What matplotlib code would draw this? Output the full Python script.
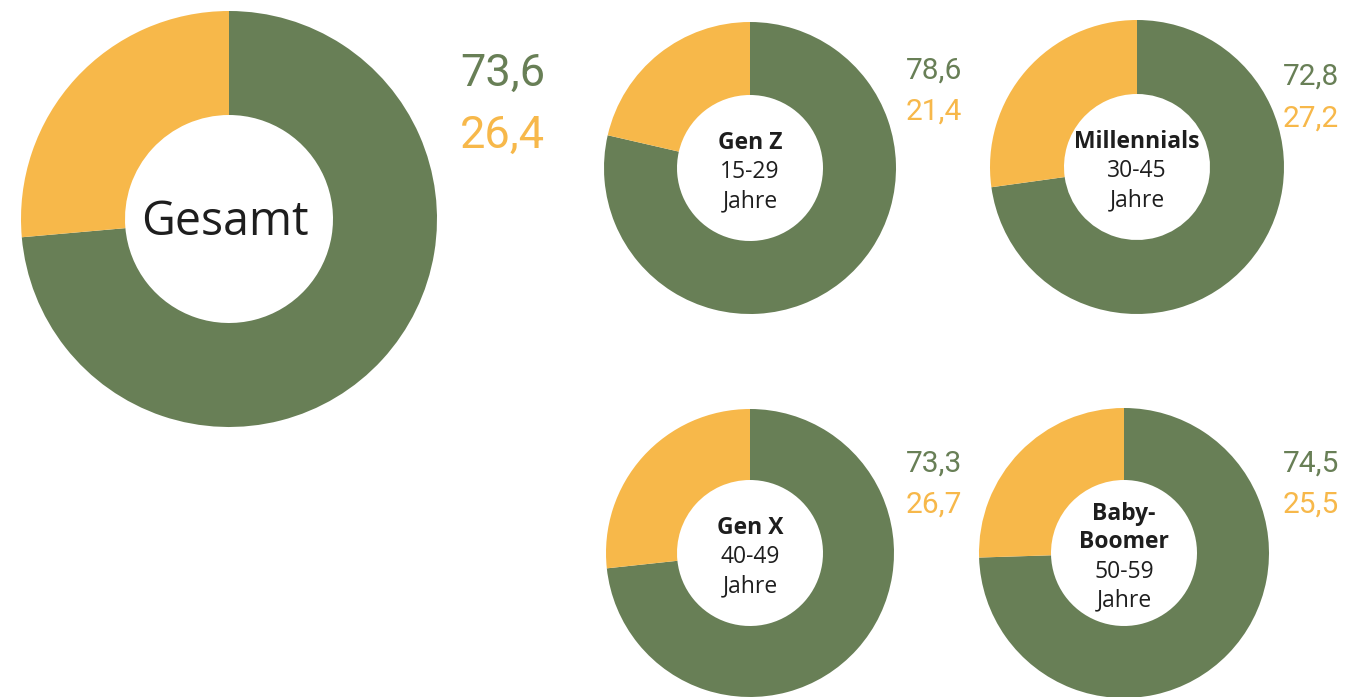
import matplotlib.pyplot as plt

# Data
groups = ["Gesamt", "Gen Z", "Millennials", "Gen X", "Baby-Boomer"]
ja = [73.6, 78.6, 72.8, 73.3, 74.5]
nein = [26.4, 21.4, 27.2, 26.7, 25.5]
labels = [
    None,
    ("Gen Z", "15-29", "Jahre"),
    ("Millennials", "30-45", "Jahre"),
    ("Gen X", "40-49", "Jahre"),
    ("Baby-", "Boomer", "50-59", "Jahre"),
]
n_bold = [0, 1, 1, 1, 2]

GREEN = "#687f56"
ORANGE = "#f7b84a"
DARK = "#1e1e1e"
W, H = 1367, 697

plt.rcParams['font.family'] = ['Roboto', 'DejaVu Sans']
LABEL_FONT = ['Open Sans', 'DejaVu Sans']

fig = plt.figure(figsize=(W / 100, H / 100), dpi=100)
ax = fig.add_axes([0, 0, 1, 1])

# layout in image pixels: center x, center y, outer r, inner r, number x, number y's, size
layout = [
    (229, 219, 208, 104, 460, (74, 136), 32.5),
    (750, 168, 146, 73, 906, (71, 112), 21.5),
    (1137, 167, 147, 73, 1283, (77, 119), 21.5),
    (750, 553, 144, 73, 906, (464, 505), 21.5),
    (1124, 553, 145, 73, 1283, (464, 505), 21.5),
]


def fy(y):
    return H - y


for i, (cx, cy, ro, ri, nx, nys, fs) in enumerate(layout):
    ax.pie([ja[i], nein[i]], colors=[GREEN, ORANGE], startangle=90,
           counterclock=False, center=(cx, fy(cy)), radius=ro,
           wedgeprops=dict(width=ro - ri, linewidth=0), frame=True)
    ax.text(nx, fy(nys[0]), f"{ja[i]:.1f}".replace(".", ","), color=GREEN,
            fontsize=fs, ha="left", va="center")
    ax.text(nx, fy(nys[1]), f"{nein[i]:.1f}".replace(".", ","), color=ORANGE,
            fontsize=fs, ha="left", va="center")

    if labels[i] is None:
        ax.text(cx - 4, fy(222), groups[i], fontsize=33.5, color=DARK,
                family=LABEL_FONT, ha="center", va="center")
    else:
        lines = labels[i]
        n = len(lines)
        step = 29
        for k, line in enumerate(lines):
            y = cy + 4 + step * (k - (n - 1) / 2)
            ax.text(cx, fy(y), line, fontsize=16.5, family=LABEL_FONT,
                    fontweight="bold" if k < n_bold[i] else "normal",
                    color=DARK, ha="center", va="center")

ax.set_xlim(0, W)
ax.set_ylim(0, H)
ax.set_aspect("equal")
ax.set_xticks([])
ax.set_yticks([])
for s in ax.spines.values():
    s.set_visible(False)

fig.savefig("out.png", dpi=100)
